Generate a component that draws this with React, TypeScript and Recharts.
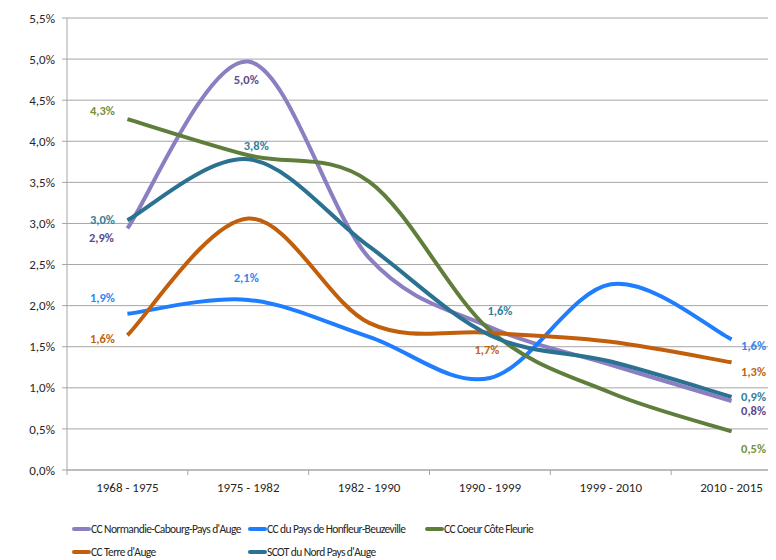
import React from 'react';
import { LineChart, Line, XAxis, YAxis, CartesianGrid, LabelList } from 'recharts';

const periods = ['1968 - 1975', '1975 - 1982', '1982 - 1990', '1990 - 1999', '1999 - 2010', '2010 - 2015'];
const yTicks = [0, 0.5, 1, 1.5, 2, 2.5, 3, 3.5, 4, 4.5, 5, 5.5];

const normandie = [2.94, 4.97, 2.58, 1.74, 1.28, 0.84];
const honfleur = [1.9, 2.07, 1.62, 1.12, 2.26, 1.59];
const coeurCote = [4.27, 3.83, 3.51, 1.7, 0.94, 0.47];
const terreAuge = [1.64, 3.06, 1.79, 1.67, 1.56, 1.31];
const scot = [3.04, 3.78, 2.72, 1.64, 1.32, 0.89];

// which points carry a value label, and where it sits relative to the point
const normandieLabels = { 0: [-26, 10], 1: [-2, 18], 5: [22, 10] };
const honfleurLabels = { 0: [-25, -16], 1: [-2, -22], 5: [22, 7] };
const coeurLabels = { 0: [-25, -8], 5: [22, 18] };
const terreLabels = { 0: [-25, 4], 3: [-3, 17], 5: [22, 10] };
const scotLabels = { 0: [-25, 0], 1: [8, -13], 3: [10, -24], 5: [22, 0] };

const FONT = "Carlito, Lato, 'Liberation Sans', sans-serif";

const data = periods.map((p, i) => ({
    period: p,
    normandie: normandie[i],
    honfleur: honfleur[i],
    coeur: coeurCote[i],
    terre: terreAuge[i],
    scot: scot[i],
}));

const series = [
    { key: 'normandie', name: "CC Normandie-Cabourg-Pays d'Auge", color: '#8b7ec1', labelColor: '#5c4a8c', labels: normandieLabels },
    { key: 'honfleur', name: 'CC du Pays de Honfleur-Beuzeville', color: '#1f7dff', labelColor: '#2f86f2', labels: honfleurLabels },
    { key: 'coeur', name: 'CC Coeur Côte Fleurie', color: '#5f7e3b', labelColor: '#76923c', labels: coeurLabels },
    { key: 'terre', name: "CC Terre d'Auge", color: '#c25f0c', labelColor: '#c0650e', labels: terreLabels },
    { key: 'scot', name: "SCOT du Nord Pays d'Auge", color: '#2b7191', labelColor: '#31819c', labels: scotLabels },
];

const fmt = (v: number) => v.toFixed(1).replace('.', ',') + '%';

// Excel style smoothed line (Catmull-Rom through the points)
const excelCurve = (context: any) => {
    let pts: number[][] = [];
    return {
        areaStart() {},
        areaEnd() {},
        lineStart() { pts = []; },
        point(x: number, y: number) { pts.push([+x, +y]); },
        lineEnd() {
            if (!pts.length) return;
            context.moveTo(pts[0][0], pts[0][1]);
            for (let i = 0; i < pts.length - 1; i++) {
                const p0 = pts[Math.max(i - 1, 0)];
                const p1 = pts[i];
                const p2 = pts[i + 1];
                const p3 = pts[Math.min(i + 2, pts.length - 1)];
                context.bezierCurveTo(
                    p1[0] + (p2[0] - p0[0]) / 6, p1[1] + (p2[1] - p0[1]) / 6,
                    p2[0] - (p3[0] - p1[0]) / 6, p2[1] - (p3[1] - p1[1]) / 6,
                    p2[0], p2[1]
                );
            }
        },
    };
};

const makeLabel = (labels: Record<number, number[]>, color: string) => (props: any) => {
    const { x, y, index, value } = props;
    const off = labels[index];
    if (!off) return null;
    return (
        <text x={x + off[0]} y={y + off[1]} dy={4} textAnchor="middle" fill={color}
            fontFamily={FONT} fontSize={12.5} fontWeight="bold">
            {fmt(value)}
        </text>
    );
};

const BAND = 725 / 6;

const PeriodTick = (props: any) => {
    const { x, y, payload } = props;
    return (
        <g>
            <line x1={x - BAND / 2} y1={y} x2={x - BAND / 2} y2={y + 5} stroke="#a6a6a6" />
            <text x={x} y={y + 22} textAnchor="middle" fill="#262626" fontFamily={FONT} fontSize={13}>
                {payload.value}
            </text>
        </g>
    );
};

const legendCols = [64, 240, 417];

const App: React.FC = () => {
    return (
        <div style={{ position: 'relative', width: 768, height: 552, overflow: 'hidden' }}>
            <LineChart width={794} height={552} data={data} margin={{ top: 10, right: 10, left: 0, bottom: 0 }}>
                <CartesianGrid vertical={false} stroke="#a6a6a6" />
                <XAxis dataKey="period" height={90} stroke="#a6a6a6" tickLine={false} tickSize={0} tickMargin={0}
                    tick={<PeriodTick />} interval={0} padding={{ left: BAND / 2, right: BAND / 2 }} />
                <YAxis domain={[0, 5.5]} ticks={yTicks} width={59} stroke="#a6a6a6" tickSize={5} tickMargin={7}
                    tickFormatter={fmt} tick={{ fill: '#262626', fontFamily: FONT, fontSize: 13 }} interval={0} />
                {series.map(s => (
                    <Line key={s.key} dataKey={s.key} name={s.name} type={excelCurve as any} stroke={s.color}
                        strokeWidth={4} dot={false} isAnimationActive={false}>
                        <LabelList dataKey={s.key} content={makeLabel(s.labels, s.labelColor)} />
                    </Line>
                ))}
            </LineChart>
            {series.map((s, i) => (
                <div key={s.key} style={{
                    position: 'absolute', left: legendCols[i % 3], top: i < 3 ? 512 : 535,
                    display: 'flex', alignItems: 'center', height: 18,
                    fontFamily: FONT, fontSize: 11.5, letterSpacing: -0.6, color: '#262626', whiteSpace: 'nowrap',
                }}>
                    <span style={{ display: 'inline-block', width: 19, height: 4, borderRadius: 2, background: s.color }} />
                    <span>{s.name}</span>
                </div>
            ))}
        </div>
    );
};

export default App;
